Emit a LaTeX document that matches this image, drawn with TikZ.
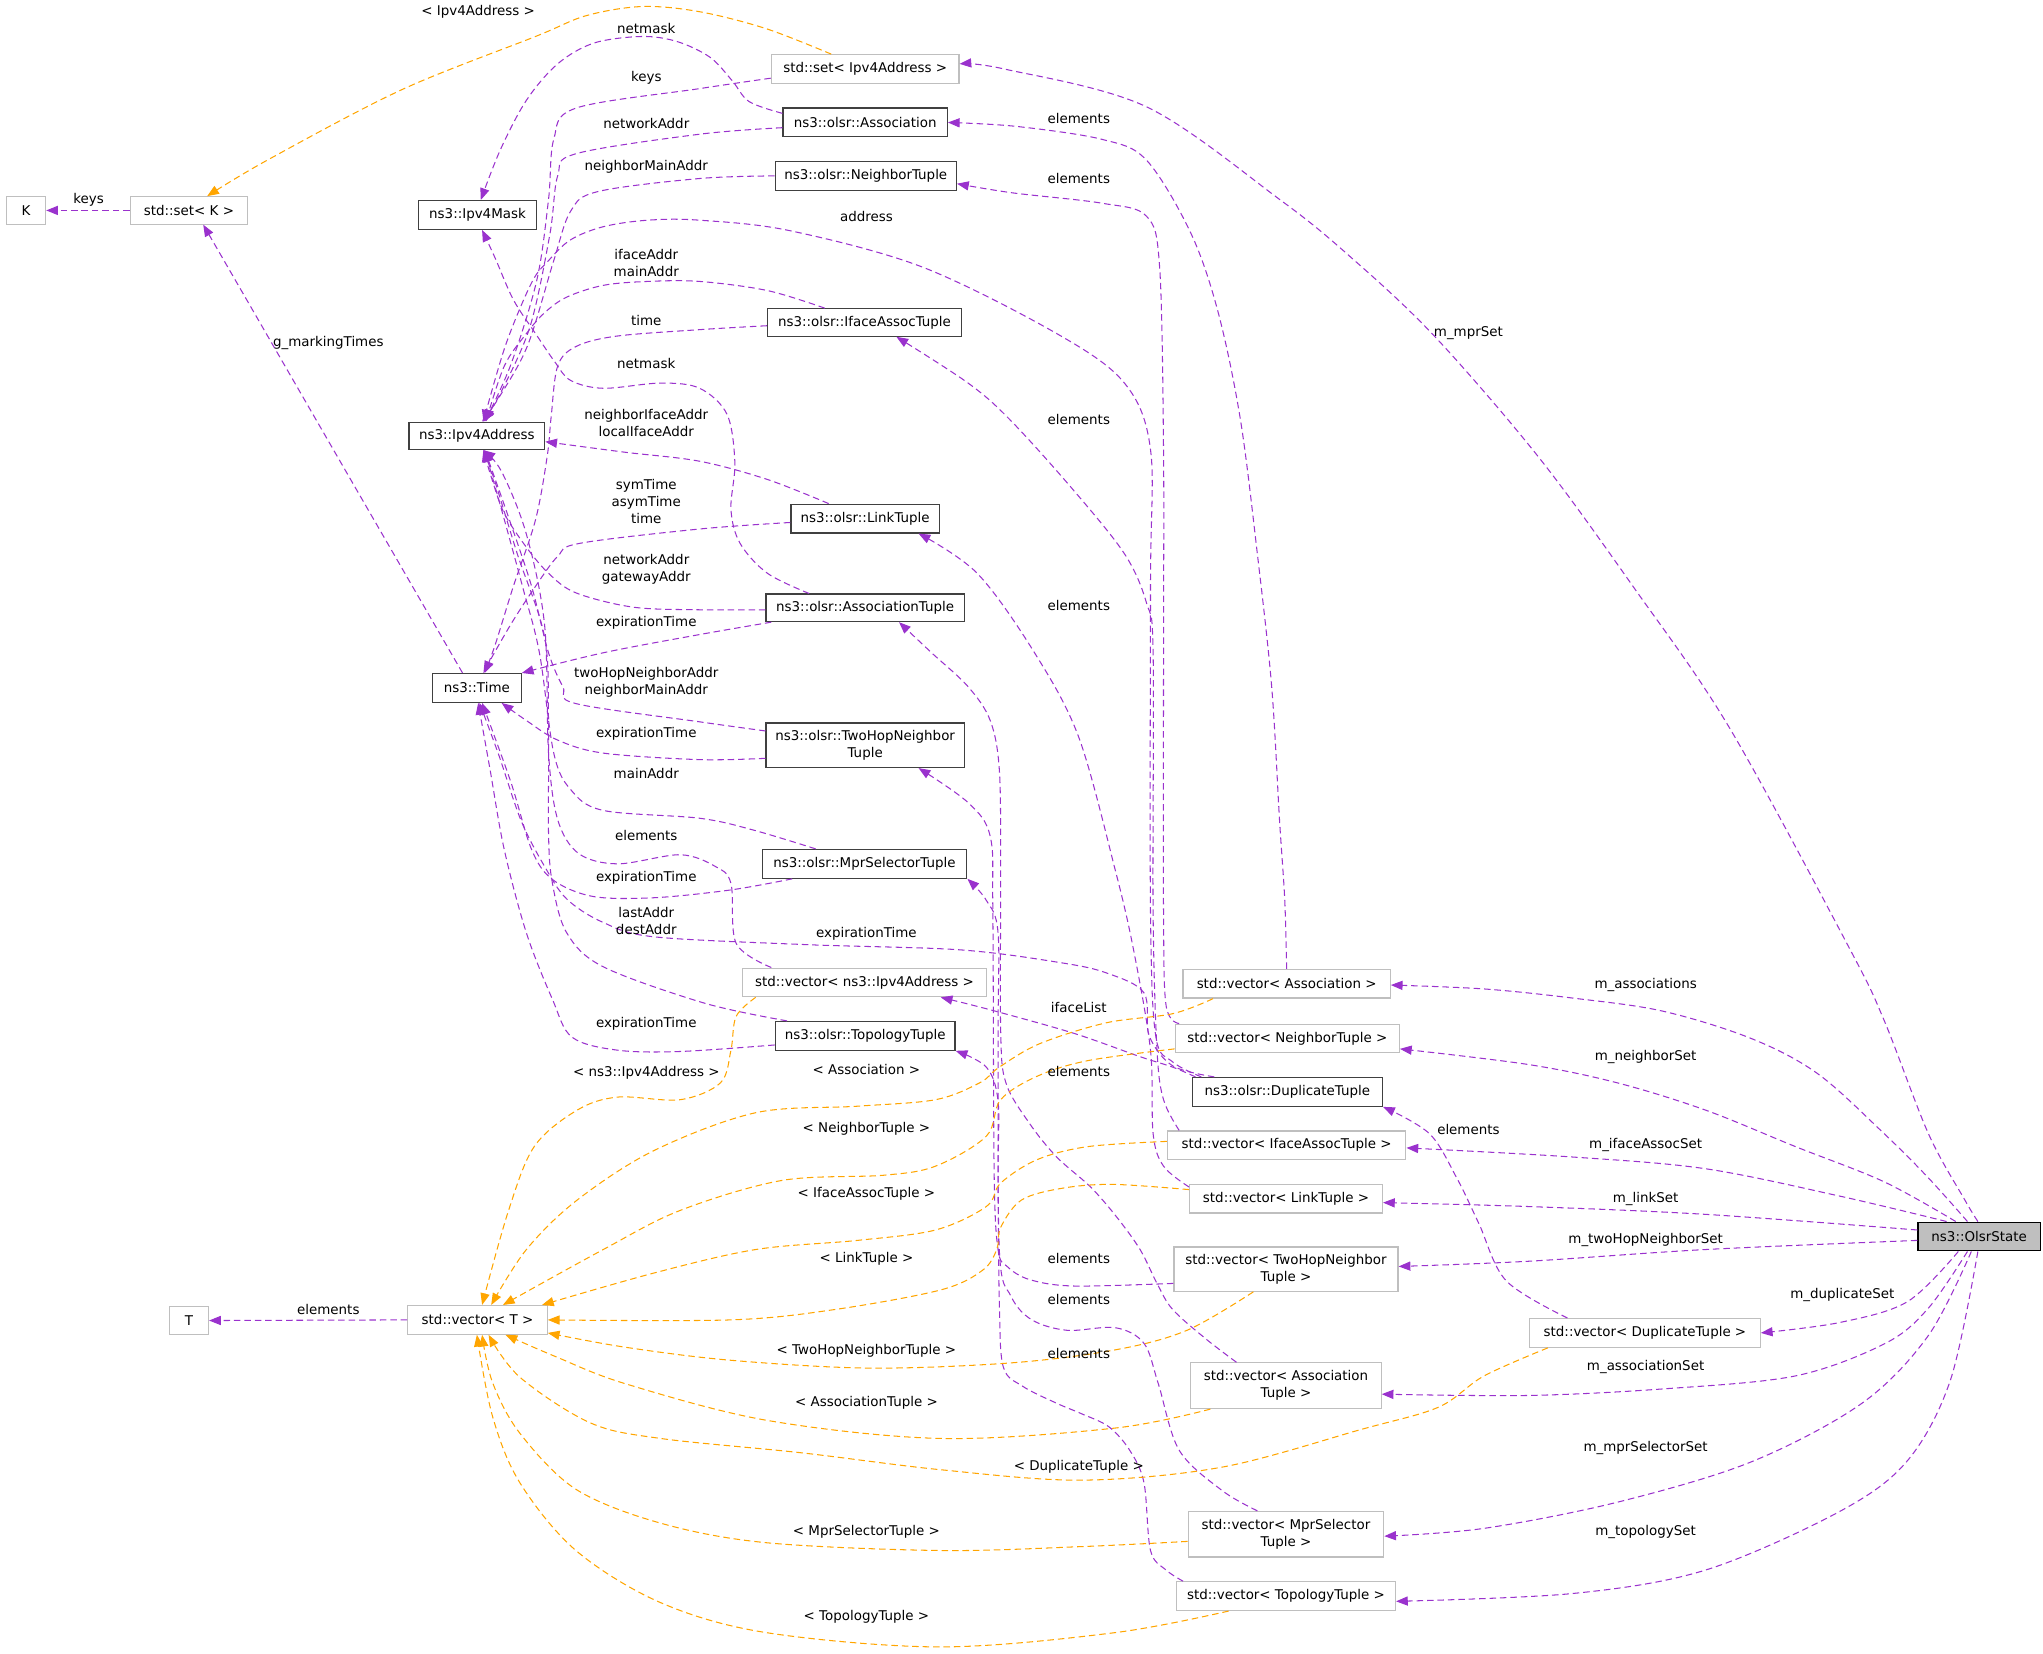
\documentclass[tikz,border=0pt]{standalone}
\usepackage{fontspec}
\setmainfont{DejaVu Sans}
\usetikzlibrary{arrows.meta}
\definecolor{edgeP}{HTML}{9A32CD}
\definecolor{edgeO}{HTML}{FFA500}
\definecolor{docB}{HTML}{404040}
\definecolor{undocB}{HTML}{BFBFBF}
\definecolor{mainF}{HTML}{BFBFBF}
\newcommand{\nf}{\fontsize{10.3}{13}\selectfont}
\tikzset{
  box/.style={inner sep=0pt, fill=white, font=\nf, align=center},
  doc/.style={box, draw=docB, line width=1pt},
  undoc/.style={box, draw=undocB, line width=0.9pt},
  mainnode/.style={box, draw=black, fill=mainF, line width=1pt},
  usage/.style={draw=edgeP, line width=0.8pt, dash pattern=on 5pt off 3pt, -{Triangle[length=9pt,width=7pt]}},
  tmpl/.style={draw=edgeO, line width=0.8pt, dash pattern=on 5pt off 3pt, -{Triangle[length=9pt,width=7pt]}},
  lbl/.style={font=\nf, align=center, inner sep=0pt},
  sm/.style={smooth, tension=0.55}
}
\begin{document}
\begin{tikzpicture}[x=1pt,y=-1pt]
\useasboundingbox (0,0) rectangle (1568,1269);
% ---------- nodes ----------
\node[undoc, minimum width=30pt, minimum height=21pt] (K) at (20,161.5) {K};
\node[undoc, minimum width=90pt, minimum height=21pt] (setK) at (145,161.5) {std::set< K >};
\node[doc, minimum width=91pt, minimum height=22pt] (mask) at (366.5,165) {ns3::Ipv4Mask};
\node[undoc, minimum width=144pt, minimum height=22pt] (setIp) at (664,53) {std::set< Ipv4Address >};
\node[doc, minimum width=126pt, minimum height=22pt] (assoc) at (664,94) {ns3::olsr::Association};
\node[doc, minimum width=139pt, minimum height=22pt] (nbr) at (664.5,135) {ns3::olsr::NeighborTuple};
\node[doc, minimum width=149pt, minimum height=21pt] (iface) at (663.5,247.5) {ns3::olsr::IfaceAssocTuple};
\node[doc, minimum width=104pt, minimum height=21pt] (ipaddr) at (366,334.5) {ns3::Ipv4Address};
\node[doc, minimum width=114pt, minimum height=22pt] (link) at (664,398) {ns3::olsr::LinkTuple};
\node[doc, minimum width=152pt, minimum height=21pt] (assocT) at (664,466.5) {ns3::olsr::AssociationTuple};
\node[doc, minimum width=68pt, minimum height=22pt] (time) at (366,528) {ns3::Time};
\node[doc, minimum width=152pt, minimum height=34pt] (twohop) at (664,572) {ns3::olsr::TwoHopNeighbor\\Tuple};
\node[doc, minimum width=157pt, minimum height=22pt] (mprsel) at (663.5,663) {ns3::olsr::MprSelectorTuple};
\node[undoc, minimum width=187pt, minimum height=22pt] (vecIp) at (663.5,754) {std::vector< ns3::Ipv4Address >};
\node[doc, minimum width=138pt, minimum height=22pt] (topo) at (664,795) {ns3::olsr::TopologyTuple};
\node[doc, minimum width=146pt, minimum height=22pt] (dup) at (988,838) {ns3::olsr::DuplicateTuple};
\node[undoc, minimum width=159pt, minimum height=22pt] (vAssoc) at (987.5,755) {std::vector< Association >};
\node[undoc, minimum width=172pt, minimum height=22pt] (vNbr) at (988,797) {std::vector< NeighborTuple >};
\node[undoc, minimum width=183pt, minimum height=22pt] (vIface) at (987.5,879) {std::vector< IfaceAssocTuple >};
\node[undoc, minimum width=148pt, minimum height=22pt] (vLink) at (987,920) {std::vector< LinkTuple >};
\node[undoc, minimum width=172pt, minimum height=34pt] (vTwo) at (987,974) {std::vector< TwoHopNeighbor\\Tuple >};
\node[undoc, minimum width=146pt, minimum height=35pt] (vAssocT) at (987,1063.5) {std::vector< Association\\Tuple >};
\node[undoc, minimum width=150pt, minimum height=35pt] (vMpr) at (987,1177.5) {std::vector< MprSelector\\Tuple >};
\node[undoc, minimum width=168pt, minimum height=22pt] (vTopo) at (987,1225) {std::vector< TopologyTuple >};
\node[undoc, minimum width=177pt, minimum height=22pt] (vDup) at (1262.5,1023) {std::vector< DuplicateTuple >};
\node[mainnode, minimum width=94pt, minimum height=22pt] (olsr) at (1519,949) {ns3::OlsrState};
\node[undoc, minimum width=30pt, minimum height=21pt] (T) at (145,1013.5) {T};
\node[undoc, minimum width=107pt, minimum height=22pt] (vT) at (366.5,1013) {std::vector< T >};
% ---------- edges: left part ----------
\draw[usage] (setK.west) -- (K.east);
\draw[usage] ([xshift=-11pt]time.north) -- ([xshift=11pt]setK.south);
\draw[tmpl] plot[sm] coordinates {([xshift=-26pt]setIp.north) (588,22) (537,9) (493,5) (450,12) (411,28) (308,69) (205,123) ([xshift=14pt]setK.north)};
\draw[usage] plot[sm] coordinates {([yshift=-7pt]setIp.west) (537,68) (442,83) (425,107) (421,153) (412,215) (392,280) ([xshift=6pt]ipaddr.north)};
\draw[usage] plot[sm] coordinates {([yshift=7pt]assoc.west) (575,78) (562,62) (545,44) (520,32) (493,28) (456,33) (428,49) (404,77) (384,115) ([xshift=2.5pt]mask.north)};
\draw[usage] plot[sm] coordinates {([yshift=-4pt]assoc.west) (537,103) (442,118) (428,135) (422,180) (407,250) (385,300) ([xshift=5pt]ipaddr.north)};
\draw[usage] plot[sm] coordinates {(nbr.west) (537,137) (459,147) (438,162) (425,200) (405,265) (383,305) ([xshift=4pt]ipaddr.north)};
\draw[usage] plot[sm] coordinates {([xshift=-66pt]dup.north) (900,815) (887,795) (883,700) (883,450) (883,345) (863,294) (811,256) (708,205) (606,177) (537,169) (497,169) (463,174) (438,184) (421,200) (408,217) (388,265) ([xshift=5pt]ipaddr.north)};
\draw[usage] plot[sm] coordinates {([xshift=-30.5pt]iface.north) (589,223) (537,216) (497,216) (463,219) (435,228) (418,240) (404,256) (387,281) ([xshift=7pt]ipaddr.north)};
\draw[usage] plot[sm] coordinates {([yshift=-2.5pt]iface.west) (537,253) (473,258) (442,266) (428,281) (423,320) (420,350) (411,399) (394,450) (380,495) ([xshift=6pt]time.north)};
\draw[usage] plot[sm] coordinates {([xshift=-43pt]assocT.north) (589,440) (568,417) (561,391) (564,355) (558,318) (537,298) (507,294) (463,298) (438,292) (426,278) (411,256) (394,230) (380,198) ([xshift=3.5pt]mask.south)};
\draw[usage] plot[sm] coordinates {([xshift=-28pt]link.north) (589,368) (537,354) (479,347) ([yshift=-4.5pt]ipaddr.east)};
\draw[usage] plot[sm] coordinates {([yshift=-3pt]link.west) (537,406) (445,417) (428,427) (411,450) (394,476) (380,500) ([xshift=5pt]time.north)};
\draw[usage] plot[sm] coordinates {([yshift=-1.5pt]assocT.west) (537,468) (486,466) (442,455) (421,440) (404,420) (387,394) (377,366) ([xshift=5pt]ipaddr.south)};
\draw[usage] plot[sm] coordinates {([xshift=-72pt]assocT.south) (537,487) (463,501) (time.north east)};
\draw[usage] plot[sm] coordinates {([yshift=11pt]twohop.west) (537,554) (442,540) (432,527) (421,501) (408,450) (391,399) (378,362) ([xshift=6pt]ipaddr.south)};
\draw[usage] plot[sm] coordinates {([yshift=-10pt]twohop.west) (537,583) (463,578) (428,568) (404,553) ([xshift=19pt]time.south)};
\draw[usage] plot[sm] coordinates {([xshift=-37.5pt]mprsel.north) (578,637) (537,628) (463,622) (438,606) (425,578) (414,501) (401,450) (386,395) ([xshift=6pt]ipaddr.south)};
\draw[usage] plot[sm] coordinates {([xshift=-71.5pt]vecIp.north) (565,724) (561,678) (549,665) (522,656) (474,663) (444,655) (428,629) (421,578) (418,480) (404,410) (385,362) ([xshift=5pt]ipaddr.south)};
\draw[usage] plot[sm] coordinates {([xshift=-55.5pt]mprsel.south) (561,683) (502,689) (455,688) (424,675) (408,652) (392,600) ([xshift=4pt]time.south)};
\draw[usage] plot[sm] coordinates {([xshift=-56pt]dup.north) (900,818) (882,795) (878,762) (850,747) (815,739) (737,729) (619,725) (502,719) (463,708) (435,690) (418,665) (400,630) (383,580) ([xshift=2pt]time.south)};
\draw[usage] plot[sm] coordinates {([xshift=-60pt]topo.north) (541,770) (463,742) (435,716) (424,678) (421,640) (421,553) (418,489) (397,425) (380,370) ([xshift=5pt]ipaddr.south)};
\draw[usage] plot[sm] coordinates {([yshift=-7pt]topo.west) (522,807) (474,806) (439,796) (424,767) (404,716) (387,652) (376,590) ([xshift=1pt]time.south)};
\draw[usage] plot[sm] coordinates {([xshift=3pt]dup.north west) (900,819) (875,811) (824,793) (760,775) ([xshift=58.5pt]vecIp.south)};
\draw[usage] (vT.west) -- (T.east);
% ---------- elements edges ----------
\draw[usage] plot[sm] coordinates {(vAssoc.north) (986,690) (982,629) (976,527) (965,425) (952,322) (935,240) (914,179) (880,123) (846,107) (780,97) (assoc.east)};
\draw[usage] plot[sm] coordinates {([xshift=-83pt]vNbr.north) (895,772) (893,700) (893,500) (893,345) (890,205) (880,166) (846,156) (777,148) ([yshift=-6pt]nbr.east)};
\draw[usage] plot[sm] coordinates {([xshift=-82.5pt]vIface.north) (893,844) (888,806) (885,700) (885,501) (880,463) (863,425) (822,374) (775,322) (743,294) ([xshift=24.5pt]iface.south)};
\draw[usage] plot[sm] coordinates {([yshift=9pt]vLink.west) (893,895) (885,870) (883,806) (870,729) (856,668) (828,566) (794,501) (750,440) ([xshift=41pt]link.south)};
\draw[usage] plot[sm] coordinates {([yshift=-11pt]vTwo.west) (824,987) (790,982) (773,972) (766,959) (763,900) (762,700) (760,642) (743,616) ([xshift=41pt]twohop.south)};
\draw[usage] plot[sm] coordinates {([xshift=-38pt]vAssocT.north) (926,1028) (900,1005) (888,985) (875,959) (857,934) (837,911) (811,888) (790,862) (772,831) (768,790) (768,668) (767,591) (760,553) (743,527) (715,501) ([xshift=26pt]assocT.south)};
\draw[usage] plot[sm] coordinates {([xshift=-22pt]vMpr.north) (938,1144) (905,1113) (889,1062) (878,1031) (856,1019) (819,1021) (792,1013) (776,995) (767,960) (766,800) (766,716) (757,691) (mprsel.south east)};
\draw[usage] plot[sm] coordinates {([xshift=-79pt]vTopo.north) (895,1205) (883,1190) (878,1138) (867,1113) (851,1095) (830,1085) (811,1077) (785,1064) (770,1049) (767,1000) (766,900) (766,845) (757,819) (topo.south east)};
\draw[usage] plot[sm] coordinates {([xshift=-59.5pt]vDup.north) (1156,983) (1135,939) (1118,904) (1097,870) (dup.south east)};
% ---------- template edges ----------
\draw[tmpl] plot[sm] coordinates {([xshift=-83.5pt]vecIp.south) (565,780) (561,806) (553,831) (522,844) (474,842) (443,852) (410,880) (390,930) ([xshift=3.5pt]vT.north)};
\draw[tmpl] plot[sm] coordinates {([xshift=-56.5pt]vAssoc.south) (900,778) (849,785) (798,801) (767,819) (752,831) (718,844) (658,849) (580,854) (502,883) (443,921) (404,959) ([xshift=10.5pt]vT.north)};
\draw[tmpl] plot[sm] coordinates {([yshift=-8pt]vNbr.west) (835,814) (796,826) (768,844) (757,872) (718,895) (678,902) (600,906) (522,929) (463,959) ([xshift=19.5pt]vT.north)};
\draw[tmpl] plot[sm] coordinates {([yshift=3pt]vIface.west) (835,880) (796,890) (768,908) (757,926) (718,944) (658,952) (580,959) (502,977) ([xshift=49.5pt]vT.north)};
\draw[tmpl] plot[sm] coordinates {([yshift=7pt]vLink.west) (854,909) (815,912) (784,921) (768,942) (765,959) (754,975) (722,990) (641,1005) (561,1013) (vT.east)};
\draw[tmpl] plot[sm] coordinates {([xshift=-25pt]vTwo.south) (911,1021) (856,1036) (776,1046) (668,1050) (561,1044) (480,1034) ([yshift=-10pt]vT.east)};
\draw[tmpl] plot[sm] coordinates {([xshift=-58pt]vAssocT.south) (856,1096) (722,1104) (588,1090) (480,1062) (426,1041) ([xshift=21.5pt]vT.south)};
\draw[tmpl] plot[sm] coordinates {([xshift=-74.5pt]vDup.south) (1139,1056) (1104,1080) (1045,1097) (938,1126) (830,1136) (722,1128) (615,1115) (507,1104) (453,1092) (399,1057) ([xshift=8.5pt]vT.south)};
\draw[tmpl] plot[sm] coordinates {([yshift=-5.5pt]vMpr.west) (830,1187) (722,1190) (588,1184) (507,1169) (442,1143) (399,1100) (378,1061) ([xshift=3.5pt]vT.south)};
\draw[tmpl] plot[sm] coordinates {([xshift=-44pt]vTopo.south) (856,1253) (722,1264) (588,1253) (507,1230) (442,1190) (399,1138) (378,1087) ([xshift=-0.5pt]vT.south)};
% ---------- OlsrState edges ----------
\draw[usage] plot[sm] coordinates {([xshift=-1pt]olsr.north) (1508,921) (1480,870) (1446,783) (1419,727) (1327,558) (1254,451) (1181,351) (1100,257) (1034,195) (982,153) (880,82) (771,53) ([yshift=4pt]setIp.east)};
\draw[usage] plot[sm] coordinates {([xshift=-9pt]olsr.north) (1480,904) (1446,870) (1395,824) (1344,797) (1276,776) (1207,766) (1139,759) ([yshift=-1pt]vAssoc.east)};
\draw[usage] plot[sm] coordinates {([xshift=-18pt]olsr.north) (1446,907) (1378,880) (1309,852) (1241,831) (1173,817) ([yshift=-8pt]vNbr.east)};
\draw[usage] plot[sm] coordinates {([xshift=-25pt]olsr.north) (1412,918) (1309,897) (1207,888) ([yshift=-2pt]vIface.east)};
\draw[usage] plot[sm] coordinates {([yshift=5pt]olsr.west) (1309,932) (1173,926) ([yshift=-3pt]vLink.east)};
\draw[usage] plot[sm] coordinates {([yshift=-3pt]olsr.west) (1309,959) (1173,968) ([yshift=2pt]vTwo.east)};
\draw[usage] plot[sm] coordinates {([xshift=-16pt]olsr.south) (1464,999) (1412,1015) (vDup.east)};
\draw[usage] plot[sm] coordinates {([xshift=-9pt]olsr.south) (1480,1004) (1447,1031) (1378,1056) (1276,1066) (1173,1071) ([yshift=-6.5pt]vAssocT.east)};
\draw[usage] plot[sm] coordinates {([xshift=-6pt]olsr.south) (1480,1025) (1429,1077) (1344,1122) (1241,1153) (1139,1173) ([yshift=-1.5pt]vMpr.east)};
\draw[usage] plot[sm] coordinates {([xshift=-1pt]olsr.south) (1497,1059) (1464,1121) (1412,1160) (1309,1205) (1207,1223) ([yshift=-4pt]vTopo.east)};
% ---------- labels ----------
\node[lbl] at (367,9) {< Ipv4Address >};
\node[lbl] at (496,22) {netmask};
\node[lbl] at (496,60) {keys};
\node[lbl] at (496,95) {networkAddr};
\node[lbl] at (496,128) {neighborMainAddr};
\node[lbl] at (68,153) {keys};
\node[lbl] at (665,166) {address};
\node[lbl] at (496,201.5) {ifaceAddr\\mainAddr};
\node[lbl] at (496,246) {time};
\node[lbl] at (252,263) {g\_markingTimes};
\node[lbl] at (496,279) {netmask};
\node[lbl] at (496,325) {neighborIfaceAddr\\localIfaceAddr};
\node[lbl] at (496,385) {symTime\\asymTime\\time};
\node[lbl] at (496,437) {networkAddr\\gatewayAddr};
\node[lbl] at (496,478) {expirationTime};
\node[lbl] at (496,523.5) {twoHopNeighborAddr\\neighborMainAddr};
\node[lbl] at (496,563) {expirationTime};
\node[lbl] at (496,594) {mainAddr};
\node[lbl] at (496,641) {elements};
\node[lbl] at (496,674) {expirationTime};
\node[lbl] at (496,707) {lastAddr\\destAddr};
\node[lbl] at (665,717) {expirationTime};
\node[lbl] at (496,786) {expirationTime};
\node[lbl] at (496,823) {< ns3::Ipv4Address >};
\node[lbl] at (828,91) {elements};
\node[lbl] at (828,137) {elements};
\node[lbl] at (828,322) {elements};
\node[lbl] at (828,465) {elements};
\node[lbl] at (828,773) {ifaceList};
\node[lbl] at (828,822) {elements};
\node[lbl] at (828,966) {elements};
\node[lbl] at (828,997) {elements};
\node[lbl] at (828,1039) {elements};
\node[lbl] at (1127,867) {elements};
\node[lbl] at (665,821) {< Association >};
\node[lbl] at (665,866) {< NeighborTuple >};
\node[lbl] at (665,916) {< IfaceAssocTuple >};
\node[lbl] at (665,966) {< LinkTuple >};
\node[lbl] at (665,1037) {< TwoHopNeighborTuple >};
\node[lbl] at (665,1077) {< AssociationTuple >};
\node[lbl] at (828,1126) {< DuplicateTuple >};
\node[lbl] at (665,1176) {< MprSelectorTuple >};
\node[lbl] at (665,1241) {< TopologyTuple >};
\node[lbl] at (252,1005) {elements};
\node[lbl] at (1127,256) {m\_mprSet};
\node[lbl] at (1263,756) {m\_associations};
\node[lbl] at (1263,811) {m\_neighborSet};
\node[lbl] at (1263,879) {m\_ifaceAssocSet};
\node[lbl] at (1263,920) {m\_linkSet};
\node[lbl] at (1263,952) {m\_twoHopNeighborSet};
\node[lbl] at (1414,994) {m\_duplicateSet};
\node[lbl] at (1263,1049) {m\_associationSet};
\node[lbl] at (1263,1111) {m\_mprSelectorSet};
\node[lbl] at (1263,1176) {m\_topologySet};
\end{tikzpicture}
\end{document}
